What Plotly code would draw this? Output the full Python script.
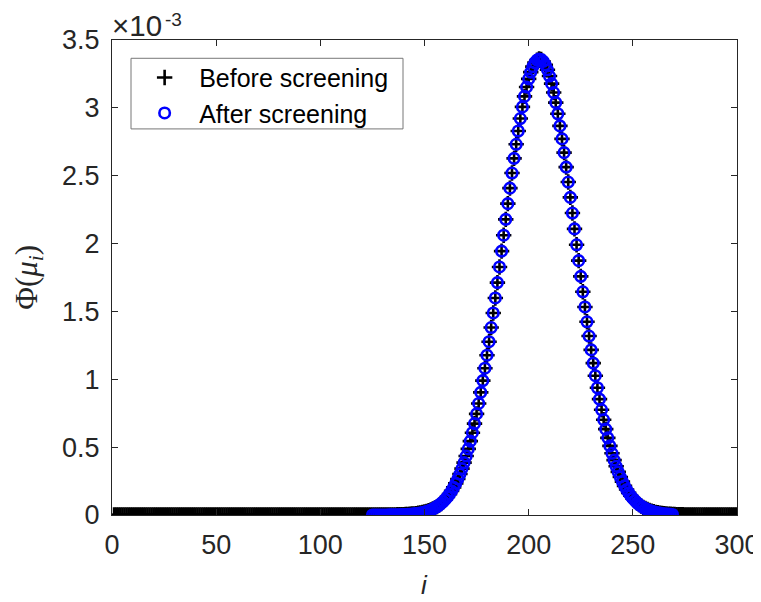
import plotly.graph_objects as go

# index axis
i_before = list(range(1, 301))
i_after = list(range(125, 270))

# Phi(mu_i) values in units of 1e-3
phi_after = [
    0.0001, 0.0001, 0.0001, 0.0002, 0.0002, 0.0003, 0.0004, 0.0005, 0.0006, 0.0008,
    0.0010, 0.0012, 0.0016, 0.0019, 0.0024, 0.0030, 0.0037, 0.0046, 0.0056, 0.0069,
    0.0085, 0.0103, 0.0125, 0.0151, 0.0182, 0.0219, 0.0263, 0.0314, 0.0373, 0.0443,
    0.0523, 0.0617, 0.0725, 0.0848, 0.0990, 0.1151, 0.1334, 0.1541, 0.1774, 0.2036,
    0.2330, 0.2656, 0.3018, 0.3418, 0.3859, 0.4342, 0.4869, 0.5442, 0.6063, 0.6733,
    0.7451, 0.8219, 0.9036, 0.9902, 1.0815, 1.1772, 1.2771, 1.3813, 1.4888, 1.5994,
    1.7126, 1.8278, 1.9444, 2.0614, 2.1783, 2.2942, 2.4084, 2.5197, 2.6279, 2.7313,
    2.8295, 2.9215, 3.0069, 3.0845, 3.1534, 3.2132, 3.2636, 3.3036, 3.3332, 3.3520,
    3.3598, 3.3564, 3.3421, 3.3168, 3.2808, 3.2346, 3.1784, 3.1130, 3.0388, 2.9566,
    2.8672, 2.7713, 2.6698, 2.5634, 2.4533, 2.3401, 2.2248, 2.1082, 1.9911, 1.8743,
    1.7585, 1.6445, 1.5327, 1.4239, 1.3184, 1.2166, 1.1193, 1.0261, 0.9376, 0.8539,
    0.7752, 0.7013, 0.6324, 0.5684, 0.5092, 0.4547, 0.4047, 0.3590, 0.3174, 0.2797,
    0.2456, 0.2149, 0.1876, 0.1631, 0.1414, 0.1221, 0.1052, 0.0903, 0.0772, 0.0658,
    0.0559, 0.0474, 0.0400, 0.0336, 0.0282, 0.0236, 0.0196, 0.0163, 0.0135, 0.0111,
    0.0092, 0.0075, 0.0061, 0.0050, 0.0040,
]

phi_before_left = [
    0, 0, 0, 0, 0, 0, 0, 0, 0, 0, 0, 0, 0, 0, 0, 0, 0, 0, 0, 0,
    0, 0, 0, 0, 0, 0, 0, 0, 0, 0, 0, 0, 0, 0, 0, 0, 0, 0, 0, 0,
    0, 0, 0, 0, 0, 0, 0, 0, 0, 0, 0, 0, 0, 0, 0, 0, 0, 0, 0, 0,
    0, 0, 0, 0, 0, 0, 0, 0, 0, 0, 0, 0, 0, 0, 0, 0, 0, 0, 0, 0,
    0, 0, 0, 0, 0, 0, 0, 0, 0, 0, 0, 0, 0, 0, 0, 0, 0, 0, 0, 0,
    0, 0, 0, 0, 0, 0, 0, 0, 0, 0, 0, 0, 0, 0, 0, 0.0001, 0.0001, 0.0001, 0.0001, 0.0001,
    0.0001, 0.0001, 0.0001, 0.0001,
]
phi_before_right = [
    0.0032, 0.0026, 0.0021, 0.0016, 0.0013, 0.0010, 0.0008, 0.0006, 0.0005, 0.0004,
    0.0003, 0.0002, 0.0002, 0.0001, 0.0001, 0.0001, 0.0001, 0, 0, 0,
    0, 0, 0, 0, 0, 0, 0, 0, 0, 0, 0,
]
phi_before = phi_before_left + phi_after + phi_before_right

x_ticks = [0, 50, 100, 150, 200, 250, 300]
y_ticks = [0, 0.5, 1, 1.5, 2, 2.5, 3, 3.5]
y_tick_text = ["0", "0.5", "1", "1.5", "2", "2.5", "3", "3.5"]

AX = "#262626"
SANS = "Liberation Sans, Arial, sans-serif"

fig = go.Figure()
fig.add_trace(go.Scatter(
    x=i_before, y=phi_before, mode="markers", name="Before screening",
    marker=dict(symbol="cross-thin", size=11, color="black",
                line=dict(color="black", width=2.6)),
))
fig.add_trace(go.Scatter(
    x=i_after, y=phi_after, mode="markers", name="After screening",
    marker=dict(symbol="circle-open", size=10.5, color="#0000ff",
                line=dict(color="#0000ff", width=2.6)),
))

axis_common = dict(
    showline=True, linecolor=AX, linewidth=1, mirror="ticks",
    ticks="inside", ticklen=6, tickwidth=1, tickcolor=AX,
    showgrid=False, zeroline=False, automargin=False,
    tickfont=dict(family=SANS, size=27, color=AX),
)

# the page adds an 8px body margin, so the figure is sized to fit after it
fig.update_layout(
    width=753, height=594,
    margin=dict(l=104, r=24, t=32, b=86.5, pad=0, autoexpand=False),
    paper_bgcolor="white", plot_bgcolor="white",
    showlegend=True,
    legend=dict(
        x=0.029, y=0.969, xanchor="left", yanchor="top",
        bgcolor="rgba(0,0,0,0)", borderwidth=0,
        font=dict(family=SANS, size=25, color="black"),
        itemwidth=59, tracegroupgap=0,
    ),
    xaxis=dict(range=[0, 300], tickvals=x_ticks, ticklabelstandoff=6, **axis_common),
    yaxis=dict(range=[0, 3.5], tickvals=y_ticks, ticktext=y_tick_text,
               ticklabelstandoff=6, **axis_common),
    shapes=[dict(
        type="rect", xref="paper", yref="paper",
        x0=0.0304, x1=0.4656, y0=0.8128, y1=0.9615,
        line=dict(color="#777777", width=1), fillcolor="white", layer="below",
    )],
)

# exponent label (kept inside the figure's top edge)
top_paper = 1 + 32 / 475.5
fig.add_annotation(
    x=0, y=top_paper, xref="paper", yref="paper", xanchor="left", yanchor="top",
    xshift=-1, borderpad=0,
    text="×10", showarrow=False,
    font=dict(family=SANS, size=29.5, color=AX),
)
fig.add_annotation(
    x=0, y=top_paper, xref="paper", yref="paper", xanchor="left", yanchor="top",
    xshift=52, borderpad=0,
    text="-3", showarrow=False,
    font=dict(family=SANS, size=19, color=AX),
)
# y title
fig.add_annotation(
    x=-0.134, y=0.5, xref="paper", yref="paper", xanchor="center", yanchor="middle",
    text="Φ(<i>μ</i><sub><i>i</i></sub>)", textangle=-90, showarrow=False,
    font=dict(family="Liberation Serif, Times New Roman, serif", size=31, color=AX),
)
# x title
fig.add_annotation(
    x=0.5, y=-0.148, xref="paper", yref="paper", xanchor="center", yanchor="middle",
    text="<i>i</i>", showarrow=False,
    font=dict(family=SANS, size=26, color=AX),
)

fig.write_html("out.html")
